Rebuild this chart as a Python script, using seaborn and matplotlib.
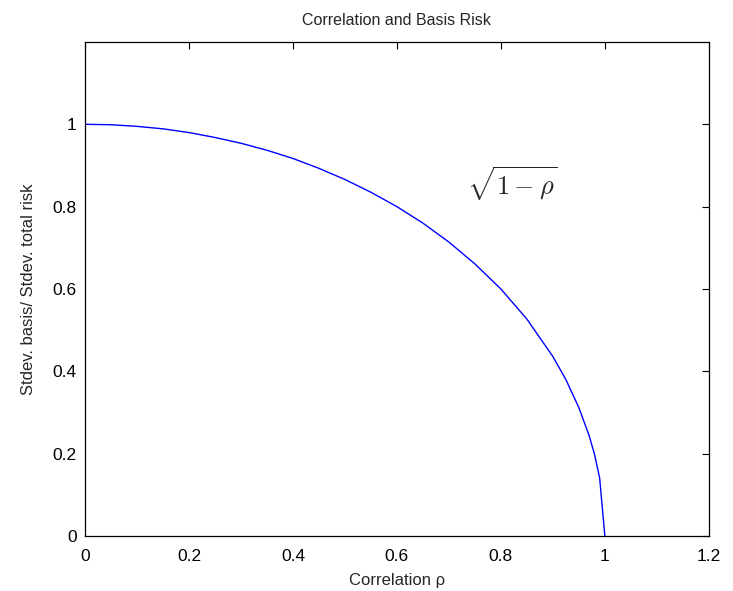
import matplotlib
matplotlib.use("Agg")
import matplotlib.pyplot as plt
import seaborn as sns
import pandas as pd

# valeurs
rho = [0, 0.05, 0.1, 0.15, 0.2, 0.25, 0.3, 0.35, 0.4, 0.45, 0.5, 0.55, 0.6,
       0.65, 0.7, 0.75, 0.8, 0.85, 0.9, 0.925, 0.95, 0.97, 0.98, 0.99, 1.0]
ratio = [1.0, 0.999, 0.995, 0.989, 0.980, 0.968, 0.954, 0.937, 0.917, 0.893,
         0.866, 0.835, 0.800, 0.760, 0.714, 0.661, 0.600, 0.527, 0.436, 0.380,
         0.312, 0.243, 0.199, 0.141, 0.0]
x_ticks = [0, 0.2, 0.4, 0.6, 0.8, 1, 1.2]
y_ticks = [0, 0.2, 0.4, 0.6, 0.8, 1]

df = pd.DataFrame({'rho': rho, 'ratio': ratio})

sns.set_style("white")
plt.rcParams['font.family'] = ['Liberation Sans Narrow', 'Liberation Sans', 'DejaVu Sans']
plt.rcParams['mathtext.fontset'] = 'cm'

fig = plt.figure(figsize=(7.33, 5.91), dpi=100)
ax = fig.add_axes([0.116, 0.093, 0.851, 0.836])

sns.lineplot(x='rho', y='ratio', data=df, color='#0000ff', linewidth=1, ax=ax)

ax.set_xlim(0, 1.2)
ax.set_ylim(0, 1.2)
ax.set_xticks(x_ticks)
ax.set_xticklabels([f"{t:g}" for t in x_ticks])
ax.set_yticks(y_ticks)
ax.set_yticklabels([f"{t:g}" for t in y_ticks])
ax.tick_params(direction='in', top=True, right=True, length=5, width=0.8,
               labelsize=12.5, colors='black')
ax.tick_params(axis='x', pad=9)
ax.tick_params(axis='y', pad=6)
for s in ax.spines.values():
    s.set_color('black')
    s.set_linewidth(0.9)

ax.set_title("Correlation and Basis Risk", fontsize=11.5, pad=12)
ax.set_xlabel("Correlation ρ", fontsize=12, labelpad=7)
ax.set_ylabel("Stdev. basis/ Stdev. total risk", fontsize=12, labelpad=12)

ax.text(0.822, 0.855, r"$\sqrt{1-\rho}$", fontsize=19, ha='center', va='center')

fig.savefig("out.png", dpi=100)
